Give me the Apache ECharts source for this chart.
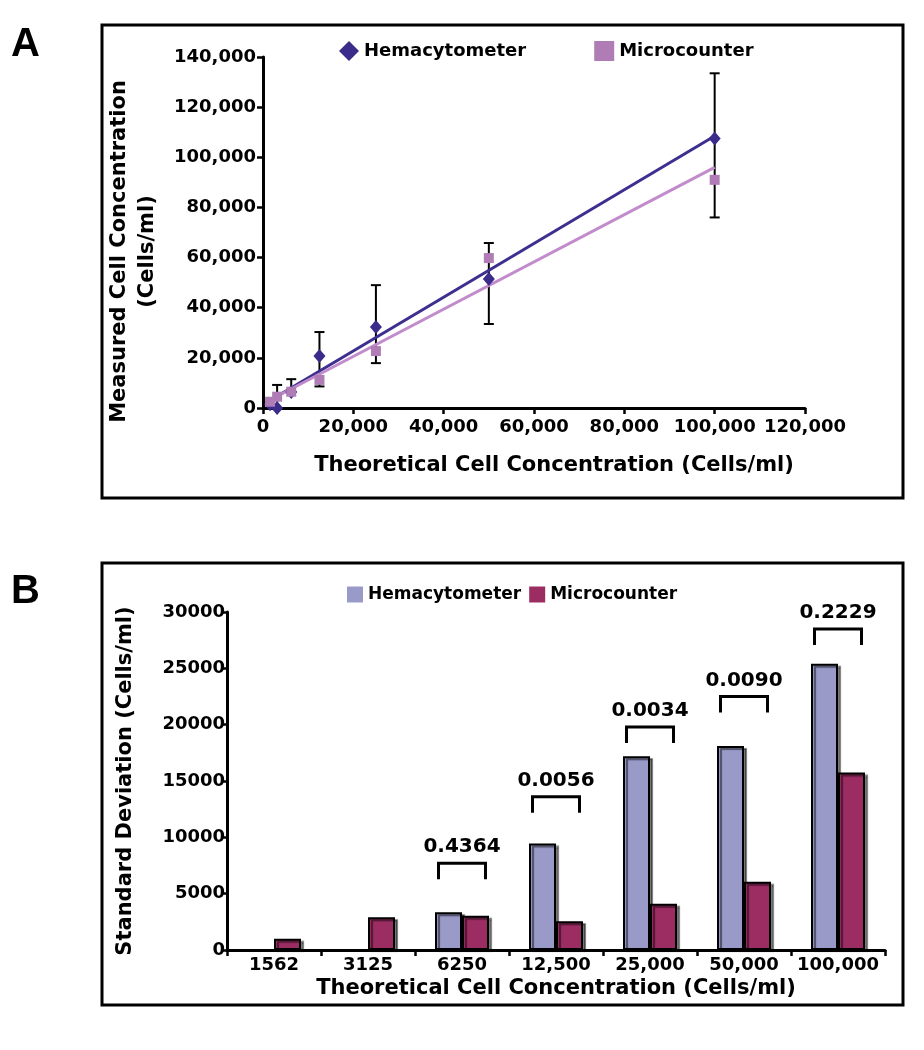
<!DOCTYPE html>
<html>
<head>
<meta charset="utf-8">
<title>Cell counts</title>
<script src="https://cdn.jsdelivr.net/npm/echarts@6/dist/echarts.min.js"></script>
<style>
    html, body { margin: 0; padding: 0; background: #fff; }
    #main { width: 924px; height: 1050px; }
</style>
</head>
<body>
<div id="main"></div>
<script>
    // panel A - measured vs theoretical concentration
    var theoretical = [1562, 3125, 6250, 12500, 25000, 50000, 100000];
    var hemaMeasured = [1500, 0, 6400, 20700, 32300, 51500, 107500];
    var microMeasured = [2500, 4500, 6500, 11200, 22700, 59800, 91000];
    var errLow = [1500, 0, 6400, 8600, 17900, 33500, 76000];
    var errHigh = [2500, 9200, 11500, 30300, 49000, 65800, 133500];
    var hemaTrend = [[1562, 3000], [100000, 108500]];
    var microTrend = [[1562, 3200], [100000, 96000]];

    // panel B - standard deviation
    var categories = ['1562', '3125', '6250', '12,500', '25,000', '50,000', '100,000'];
    var hemaSD = [null, null, 3350, 9450, 17200, 18100, 25400];
    var microSD = [1000, 2900, 3050, 2550, 4100, 6050, 15750];
    var pValues = ['', '', '0.4364', '0.0056', '0.0034', '0.0090', '0.2229'];
    var bracketLevel = [null, null, 7700, 13600, 19800, 22500, 28500];

    var FONT = '"DejaVu Sans", Verdana, sans-serif';
    var hemaDark = '#3b2b8a', microPink = '#b07cb6';
    var hemaBar = '#9a9ac9', microBar = '#9b2d63';

    function commas(v) {
        return String(v).replace(/\B(?=(\d{3})+(?!\d))/g, ',');
    }

    var bracketData = [];
    for (var i = 0; i < bracketLevel.length; i++) {
        if (bracketLevel[i] != null) bracketData.push([i, bracketLevel[i]]);
    }

    var labelStyle = { color: '#000', fontFamily: FONT, fontWeight: 'bold', fontSize: 18 };
    var nameStyle = { color: '#000', fontFamily: FONT, fontWeight: 'bold', fontSize: 21 };
    var axisLine = { show: true, onZero: false, lineStyle: { color: '#000', width: 3 } };
    var axisTick = { show: true, inside: false, length: 6, lineStyle: { color: '#000', width: 2.5 } };

    var myChart = echarts.init(document.getElementById('main'));

    var option = {
        animation: false,
        backgroundColor: '#fff',
        graphic: [
            { type: 'rect', shape: { x: 102, y: 25, width: 801, height: 473 }, style: { fill: 'none', stroke: '#000', lineWidth: 3 } },
            { type: 'rect', shape: { x: 102, y: 563, width: 801, height: 442 }, style: { fill: 'none', stroke: '#000', lineWidth: 3 } },
            { type: 'text', left: 11, top: 25, style: { text: 'A', font: 'bold 40px "Liberation Sans", Arial, sans-serif', fill: '#000' } },
            { type: 'text', left: 11, top: 572, style: { text: 'B', font: 'bold 40px "Liberation Sans", Arial, sans-serif', fill: '#000' } }
        ],
        legend: [{
            left: 334, top: 36,
            itemWidth: 20, itemHeight: 20, itemGap: 68,
            selectedMode: false,
            textStyle: { color: '#000', fontFamily: FONT, fontWeight: 'bold', fontSize: 18 },
            data: [
                { name: 'Hemacytometer', icon: 'diamond', itemStyle: { color: hemaDark, borderWidth: 0 } },
                { name: 'Microcounter', icon: 'rect', itemStyle: { color: microPink, borderWidth: 0 } }
            ]
        }, {
            left: 342, top: 581,
            itemWidth: 16, itemHeight: 16, itemGap: 8,
            selectedMode: false,
            textStyle: { color: '#000', fontFamily: FONT, fontWeight: 'bold', fontSize: 17 },
            data: [
                { name: 'Hemacytometer', icon: 'rect', itemStyle: { color: hemaBar, borderWidth: 0, shadowBlur: 0, shadowOffsetX: 0, shadowOffsetY: 0 } },
                { name: 'Microcounter', icon: 'rect', itemStyle: { color: microBar, borderWidth: 0, shadowBlur: 0, shadowOffsetX: 0, shadowOffsetY: 0 } }
            ]
        }],
        grid: [
            { left: 263, right: 119, top: 57, bottom: 642, containLabel: false },
            { left: 227, right: 39, top: 612, bottom: 100, containLabel: false }
        ],
        xAxis: [{
            gridIndex: 0, type: 'value', min: 0, max: 120000, interval: 20000,
            name: 'Theoretical Cell Concentration (Cells/ml)', nameLocation: 'middle', nameGap: 47,
            nameTextStyle: Object.assign({ padding: [0, 0, 0, 40] }, nameStyle),
            axisLine: axisLine, axisTick: axisTick, splitLine: { show: false },
            axisLabel: Object.assign({ margin: 10, formatter: commas }, labelStyle)
        }, {
            gridIndex: 1, type: 'category', data: categories, boundaryGap: true,
            name: 'Theoretical Cell Concentration (Cells/ml)', nameLocation: 'middle', nameGap: 28,
            nameTextStyle: nameStyle,
            axisLine: axisLine, axisTick: Object.assign({ alignWithLabel: false }, axisTick), splitLine: { show: false },
            axisLabel: Object.assign({ margin: 6, interval: 0 }, labelStyle)
        }],
        yAxis: [{
            gridIndex: 0, type: 'value', min: 0, max: 140000, interval: 20000,
            name: 'Measured Cell Concentration\n(Cells/ml)', nameLocation: 'middle', nameGap: 101,
            nameTextStyle: Object.assign({ lineHeight: 28, padding: [0, 38, 0, 0] }, nameStyle),
            axisLine: axisLine, axisTick: axisTick, splitLine: { show: false },
            axisLabel: Object.assign({ margin: 7, formatter: commas }, labelStyle)
        }, {
            gridIndex: 1, type: 'value', min: 0, max: 30000, interval: 5000,
            name: 'Standard Deviation (Cells/ml)', nameLocation: 'middle', nameGap: 91,
            nameTextStyle: nameStyle,
            axisLine: axisLine, axisTick: axisTick, splitLine: { show: false },
            axisLabel: Object.assign({ margin: 2, formatter: function (v) { return String(v); } }, labelStyle)
        }],
        series: [
            {
                name: 'errors', type: 'custom', xAxisIndex: 0, yAxisIndex: 0, z: 1,
                data: theoretical.map(function (x, i) { return [x, errLow[i], errHigh[i]]; }),
                encode: { x: 0, y: [1, 2] },
                renderItem: function (params, api) {
                    var lo = api.coord([api.value(0), api.value(1)]);
                    var hi = api.coord([api.value(0), api.value(2)]);
                    var w = 5, st = { stroke: '#000', lineWidth: 2 };
                    return {
                        type: 'group', children: [
                            { type: 'line', shape: { x1: lo[0], y1: lo[1], x2: hi[0], y2: hi[1] }, style: st },
                            { type: 'line', shape: { x1: lo[0] - w, y1: lo[1], x2: lo[0] + w, y2: lo[1] }, style: st },
                            { type: 'line', shape: { x1: hi[0] - w, y1: hi[1], x2: hi[0] + w, y2: hi[1] }, style: st }
                        ]
                    };
                }
            },
            {
                name: 'hemaTrend', type: 'line', xAxisIndex: 0, yAxisIndex: 0, z: 2,
                data: hemaTrend, showSymbol: false, symbol: 'none',
                lineStyle: { color: '#3c2f8f', width: 3 }
            },
            {
                name: 'microTrend', type: 'line', xAxisIndex: 0, yAxisIndex: 0, z: 2,
                data: microTrend, showSymbol: false, symbol: 'none',
                lineStyle: { color: '#c28ccc', width: 3 }
            },
            {
                name: 'Hemacytometer', type: 'scatter', xAxisIndex: 0, yAxisIndex: 0, z: 3,
                data: theoretical.map(function (x, i) { return [x, hemaMeasured[i]]; }),
                symbol: 'diamond', symbolSize: [12, 14],
                itemStyle: { color: hemaDark, opacity: 1 }
            },
            {
                name: 'Microcounter', type: 'scatter', xAxisIndex: 0, yAxisIndex: 0, z: 3,
                data: theoretical.map(function (x, i) { return [x, microMeasured[i]]; }),
                symbol: 'rect', symbolSize: 10,
                itemStyle: { color: microPink, opacity: 1 }
            },
            {
                name: 'Hemacytometer', type: 'bar', xAxisIndex: 1, yAxisIndex: 1,
                data: hemaSD, barWidth: 27, barGap: '0%',
                itemStyle: { color: hemaBar, borderColor: '#000', borderWidth: 2,
                    shadowColor: 'rgba(0,0,0,0.5)', shadowOffsetX: 3, shadowOffsetY: 2, shadowBlur: 1 }
            },
            {
                name: 'Microcounter', type: 'bar', xAxisIndex: 1, yAxisIndex: 1,
                data: microSD, barWidth: 27, barGap: '0%',
                itemStyle: { color: microBar, borderColor: '#000', borderWidth: 2,
                    shadowColor: 'rgba(0,0,0,0.5)', shadowOffsetX: 3, shadowOffsetY: 2, shadowBlur: 1 }
            },
            {
                name: 'pvalues', type: 'custom', xAxisIndex: 1, yAxisIndex: 1, z: 5,
                data: bracketData,
                encode: { x: 0, y: 1 },
                renderItem: function (params, api) {
                    var idx = api.value(0);
                    var p = api.coord([idx, api.value(1)]);
                    var half = api.size([1, 0])[0] * 0.25;
                    var leg = 16;
                    return {
                        type: 'group', children: [
                            { type: 'polyline', shape: { points: [[p[0] - half, p[1] + leg], [p[0] - half, p[1]], [p[0] + half, p[1]], [p[0] + half, p[1] + leg]] },
                              style: { stroke: '#000', lineWidth: 3, fill: null } },
                            { type: 'text', x: p[0], y: p[1] - 6,
                              style: { text: pValues[idx], fill: '#000', font: 'bold 20px ' + FONT, align: 'center', verticalAlign: 'bottom' } }
                        ]
                    };
                }
            }
        ]
    };

    myChart.setOption(option);
</script>
</body>
</html>
